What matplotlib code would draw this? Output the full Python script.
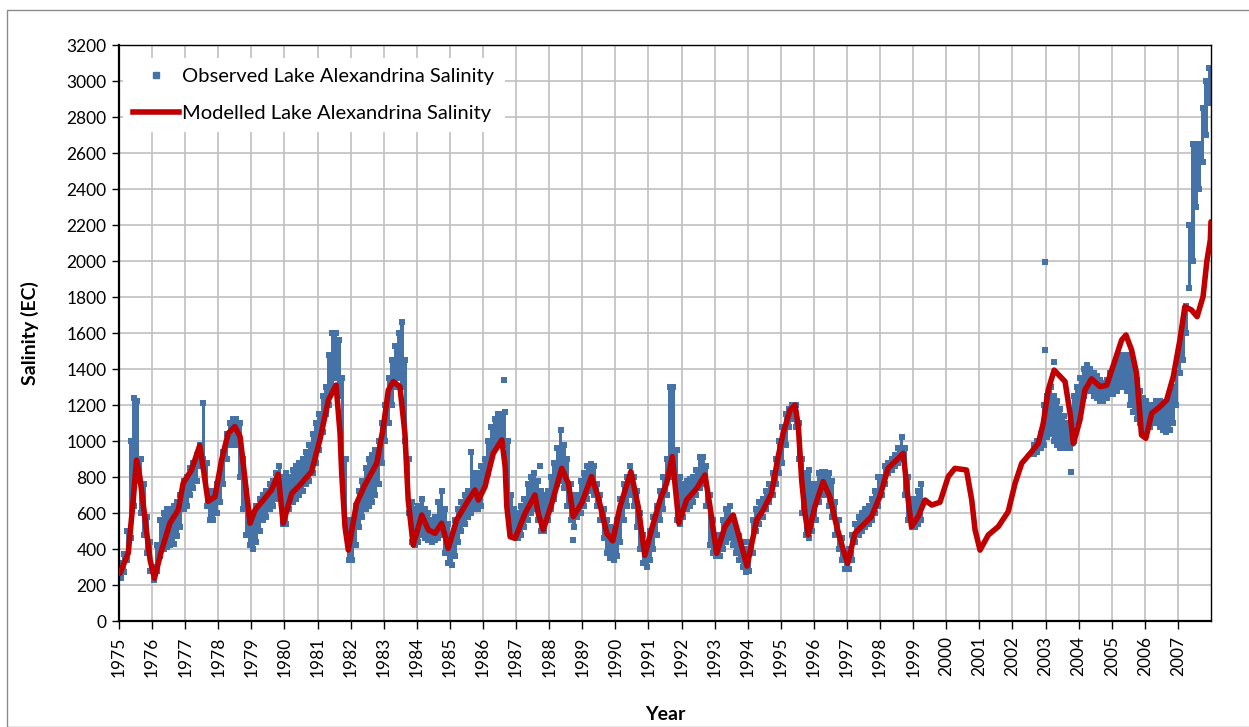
import numpy as np
import matplotlib.pyplot as plt
from matplotlib.lines import Line2D
from matplotlib.patches import Rectangle

plt.rcParams['font.family'] = ['Lato', 'DejaVu Sans']

BLUE = '#4572A7'
RED = '#C00000'

# Modelled salinity (year, EC)
model_t = [1975.03, 1975.28, 1975.43, 1975.53, 1975.63, 1975.79, 1975.94, 1976.07, 1976.29, 1976.54,
           1976.79, 1976.94, 1977.19, 1977.44, 1977.54, 1977.69, 1977.90, 1978.10, 1978.30, 1978.50,
           1978.66, 1978.81, 1978.96, 1979.11, 1979.36, 1979.61, 1979.81, 1979.96, 1980.22, 1980.47,
           1980.82, 1981.07, 1981.33, 1981.56, 1981.68, 1981.73, 1981.83, 1981.93, 1982.18, 1982.43,
           1982.79, 1982.99, 1983.14, 1983.29, 1983.49, 1983.64, 1983.74, 1983.89, 1984.15, 1984.35,
           1984.55, 1984.75, 1984.95, 1985.20, 1985.56, 1985.76, 1985.86, 1986.06, 1986.31, 1986.57,
           1986.67, 1986.72, 1986.82, 1986.97, 1987.27, 1987.57, 1987.67, 1987.82, 1988.08, 1988.38,
           1988.58, 1988.73, 1988.98, 1989.28, 1989.48, 1989.74, 1989.92, 1990.14, 1990.47, 1990.69,
           1990.89, 1991.09, 1991.35, 1991.55, 1991.72, 1991.85, 1991.92, 1992.15, 1992.46, 1992.71,
           1992.86, 1993.06, 1993.31, 1993.56, 1993.71, 1993.98, 1994.27, 1994.47, 1994.72, 1994.92,
           1995.07, 1995.28, 1995.43, 1995.53, 1995.63, 1995.73, 1995.83, 1996.03, 1996.28, 1996.48,
           1996.69, 1996.89, 1997.02, 1997.24, 1997.44, 1997.74, 1997.99, 1998.24, 1998.50, 1998.70,
           1998.85, 1998.95, 1999.15, 1999.36, 1999.56, 1999.81, 2000.06, 2000.26, 2000.61, 2000.77,
           2000.87, 2001.02, 2001.27, 2001.57, 2001.87, 2002.08, 2002.28, 2002.58, 2002.78, 2002.93,
           2003.08, 2003.26, 2003.59, 2003.74, 2003.84, 2004.04, 2004.19, 2004.39, 2004.65, 2004.85,
           2005.10, 2005.30, 2005.43, 2005.60, 2005.75, 2005.83, 2005.90, 2006.03, 2006.21, 2006.46,
           2006.66, 2006.86, 2007.06, 2007.21, 2007.41, 2007.58, 2007.76, 2007.88, 2007.98, 2008.00]
model_ec = [265, 378, 672, 894, 800, 561, 339, 237, 394, 544,
            617, 766, 839, 975, 857, 665, 690, 894, 1043, 1080,
            1024, 783, 543, 617, 672, 728, 815, 543, 709, 756,
            830, 1006, 1228, 1311, 1043, 820, 524, 394, 654, 756,
            876, 1080, 1283, 1330, 1302, 1043, 672, 422, 589, 506,
            487, 543, 404, 561, 672, 728, 672, 746, 931, 1006,
            857, 635, 468, 459, 598, 700, 598, 506, 654, 848,
            765, 580, 654, 802, 690, 487, 445, 635, 830, 635,
            365, 506, 672, 765, 913, 672, 543, 672, 737, 811,
            635, 376, 524, 589, 487, 305, 561, 617, 709, 913,
            1043, 1172, 1200, 1080, 783, 598, 478, 635, 774, 690,
            524, 394, 320, 487, 524, 580, 690, 848, 894, 931,
            672, 524, 580, 672, 644, 660, 802, 848, 839, 672,
            506, 394, 478, 524, 607, 765, 876, 941, 987, 1098,
            1283, 1394, 1330, 1154, 985, 1117, 1283, 1345, 1302, 1310,
            1450, 1561, 1589, 1506, 1376, 1191, 1033, 1015, 1154, 1191,
            1228, 1357, 1561, 1746, 1728, 1691, 1802, 2006, 2117, 2218]

# Observed salinity: high / low reading in each 0.1-year bin
obs1_start = 1975.0
obs1_hi = [320, 370, 500, 1000, 1240, 1220, 900, 760, 580, 440,        # 1975
           300, 420, 560, 600, 620, 620, 640, 660, 700, 780,           # 1976
           800, 850, 880, 920, 980, 1210, 880, 720, 720, 760,          # 1977
           820, 940, 1040, 1100, 1120, 1120, 1100, 900, 720, 600,      # 1978
           600, 640, 680, 700, 720, 760, 780, 820, 860, 800,           # 1979
           820, 800, 840, 860, 880, 900, 940, 980, 1040, 1100,         # 1980
           1150, 1250, 1300, 1480, 1600, 1600, 1560, 1350, 900, 560,   # 1981
           500, 640, 720, 780, 850, 900, 920, 950, 1000, 1100,         # 1982
           1200, 1350, 1450, 1530, 1600, 1660, 1450, 900, 660, 620,    # 1983
           640, 680, 620, 600, 560, 580, 660, 720, 620, 540,           # 1984
           480, 560, 620, 660, 700, 720, 940, 820, 820, 860,           # 1985
           900, 1000, 1080, 1120, 1150, 1150, 1160, 1000, 700, 620,    # 1986
           600, 640, 680, 760, 800, 820, 780, 720, 700, 720,           # 1987
           800, 880, 960, 1060, 980, 900, 760, 700, 700, 780,          # 1988
           820, 860, 870, 860, 760, 700, 620, 560, 520, 500,           # 1989
           560, 680, 760, 800, 860, 800, 720, 600, 480, 420,           # 1990
           500, 580, 640, 720, 800, 900, 1300, 1300, 950, 800,         # 1991
           760, 780, 790, 800, 840, 910, 910, 860, 700, 560,           # 1992
           480, 480, 560, 620, 640, 580, 500, 470, 440, 400,           # 1993
           440, 560, 620, 660, 680, 720, 760, 820, 900, 1000,          # 1994
           1080, 1150, 1180, 1200, 1200, 1100, 900, 820, 840, 760,     # 1995
           760, 820, 830, 830, 820, 780, 660, 560, 460, 380,           # 1996
           400, 480, 540, 580, 600, 620, 640, 680, 720, 800,           # 1997
           800, 860, 880, 900, 920, 960, 1020, 960, 800, 680,          # 1998
           680, 720, 760]                                              # 1999
obs1_lo = [240, 270, 340, 460, 640, 780, 600, 480, 380, 280,
           230, 280, 360, 400, 410, 420, 430, 470, 520, 620,
           640, 700, 740, 780, 860, 900, 640, 560, 560, 600,
           660, 760, 900, 980, 1000, 980, 800, 620, 480, 420,
           400, 440, 500, 560, 580, 620, 640, 680, 700, 540,
           540, 620, 660, 680, 700, 720, 760, 780, 820, 880,
           950, 1050, 1150, 1200, 1300, 1350, 1250, 900, 500, 340,
           340, 420, 520, 580, 620, 640, 660, 700, 760, 880,
           1000, 1100, 1200, 1300, 1350, 1300, 1000, 600, 440, 420,
           440, 480, 460, 450, 440, 450, 460, 480, 380, 320,
           310, 360, 440, 500, 540, 580, 600, 620, 620, 640,
           760, 820, 900, 960, 1000, 1000, 980, 600, 500, 480,
           460, 480, 520, 560, 600, 620, 560, 500, 500, 560,
           620, 680, 760, 780, 740, 640, 560, 520, 580, 600,
           640, 680, 720, 700, 640, 560, 460, 380, 350, 340,
           360, 440, 560, 640, 700, 640, 520, 400, 320, 300,
           340, 400, 480, 560, 620, 700, 800, 880, 560, 540,
           580, 620, 640, 660, 700, 740, 760, 640, 420, 380,
           360, 360, 400, 440, 460, 420, 380, 340, 300, 270,
           280, 380, 500, 540, 580, 620, 660, 700, 760, 820,
           880, 980, 1080, 1120, 1080, 900, 600, 480, 460, 500,
           560, 660, 700, 700, 640, 580, 480, 400, 340, 290,
           290, 340, 440, 480, 500, 520, 540, 560, 600, 640,
           700, 760, 820, 840, 860, 880, 900, 700, 560, 520,
           520, 540, 560]

obs2_start = 2002.6
obs2_hi = [980, 1000, 1040, 1200,                                      # 2002
           1250, 1300, 1250, 1220, 1180, 1140, 1100, 1060, 1250, 1300, # 2003
           1350, 1400, 1420, 1400, 1380, 1360, 1340, 1320, 1340, 1380, # 2004
           1400, 1440, 1470, 1480, 1480, 1460, 1400, 1340, 1280, 1240, # 2005
           1220, 1200, 1200, 1220, 1220, 1200, 1200, 1240, 1300, 1380, # 2006
           1500, 1600, 1750, 2200, 2650, 2650, 2650, 2850, 3000, 3070] # 2007
obs2_lo = [930, 940, 960, 980,
           1020, 1040, 1000, 980, 960, 960, 960, 960, 1000, 1100,
           1150, 1250, 1280, 1280, 1250, 1240, 1220, 1220, 1240, 1260,
           1260, 1280, 1300, 1300, 1280, 1200, 1160, 1120, 1100, 1080,
           1060, 1080, 1100, 1100, 1080, 1060, 1050, 1060, 1100, 1200,
           1380, 1450, 1600, 1850, 2000, 2300, 2400, 2550, 2700, 2880]

# Isolated readings away from the main band
outlier_t = [1986.64, 1987.72, 1988.73, 2002.97, 2002.97, 2003.26, 2003.78]
outlier_ec = [1340, 860, 450, 1995, 1505, 1440, 830]

years = list(range(1975, 2008))

fig = plt.figure(figsize=(12.49, 7.27), dpi=100)
ax = fig.add_axes([119 / 1249, 106 / 727, 1092 / 1249, 576 / 727])

# grey frame around the whole chart
fig.patches.append(Rectangle((7 / 1249, 0), 1.2, 717 / 727, transform=fig.transFigure,
                             fill=False, edgecolor='#8c8c8c', lw=1.0, zorder=0))

for start, hi, lo in [(obs1_start, obs1_hi, obs1_lo), (obs2_start, obs2_hi, obs2_lo)]:
    hi = np.array(hi)
    lo = np.array(lo)
    t = start + 0.05 + 0.1 * np.arange(len(hi))
    ax.bar(t, hi - lo, bottom=lo, width=0.104, color=BLUE, lw=0, zorder=2)
    ax.scatter(t, hi, marker='s', s=16, color=BLUE, lw=0, zorder=2)
    ax.scatter(t, lo, marker='s', s=16, color=BLUE, lw=0, zorder=2)
ax.scatter(outlier_t, outlier_ec, marker='s', s=18, color=BLUE, lw=0, zorder=2)

ax.plot(model_t, model_ec, color=RED, lw=4.0, solid_joinstyle='round',
        solid_capstyle='round', zorder=3)

ax.set_xlim(1975, 2008)
ax.set_ylim(0, 3200)
ax.set_xticks(years)
ax.set_xticklabels([str(y) for y in years], rotation=90, fontsize=12.5)
ax.set_yticks(range(0, 3201, 200))
ax.tick_params(axis='y', labelsize=12.5, length=5, width=1, direction='out', pad=4)
ax.tick_params(axis='x', length=6, width=1, direction='out', pad=5)
ax.grid(True, color='#c0c0c0', lw=1.2, zorder=0)
ax.set_axisbelow(True)
for side in ['left', 'bottom']:
    ax.spines[side].set_linewidth(1.6)
for side in ['top', 'right']:
    ax.spines[side].set_linewidth(1.0)

ax.set_ylabel('Salinity (EC)', fontsize=14, fontweight='bold', labelpad=20)
fig.text(665 / 1249, 13 / 727, 'Year', fontsize=14, fontweight='bold',
         ha='center', va='center')

handles = [Line2D([], [], marker='s', ls='none', color=BLUE, markersize=4),
           Line2D([], [], color=RED, lw=4.0)]
leg = ax.legend(handles, ['Observed Lake Alexandrina Salinity', 'Modelled Lake Alexandrina Salinity'],
                loc='upper left', bbox_to_anchor=(0.0, 0.985), frameon=True, fontsize=14.5,
                handlelength=2.3, handletextpad=0.15, labelspacing=1.0, borderpad=0.5,
                borderaxespad=0.2)
leg.get_frame().set_edgecolor('none')
leg.get_frame().set_facecolor('white')
leg.get_frame().set_alpha(1)

fig.savefig('out.png', dpi=100)
